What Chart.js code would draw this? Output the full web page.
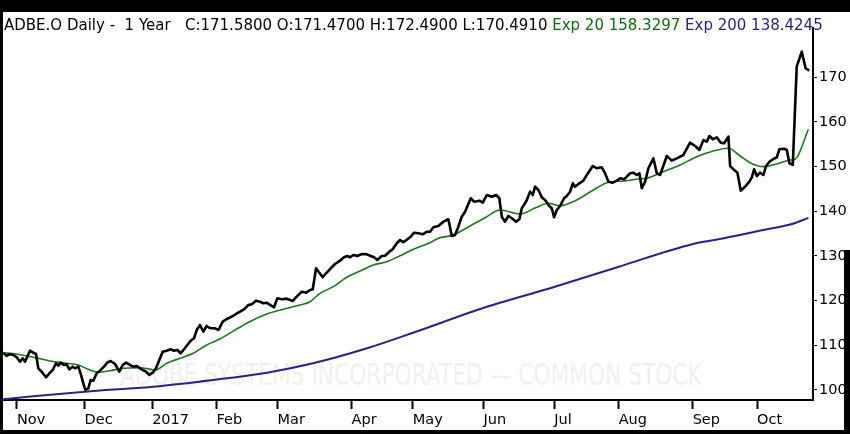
<!DOCTYPE html>
<html>

<head>
  <title>ADBE.O Daily - 1 Year</title>
  <script src="https://cdn.jsdelivr.net/npm/chart.js"></script>
  <style>
    body { margin: 0; background: #000; width: 850px; height: 434px; overflow: hidden; position: relative; font-family: "DejaVu Sans", sans-serif; }
    #panel { position: absolute; left: 3px; top: 12px; width: 847px; height: 418px; background: #fff; overflow: hidden; }
    #stamp { position: absolute; left: 117px; top: 345px; color: #f1f1f1; font-size: 30px; white-space: pre; transform-origin: 0 0; }
    #chart { position: absolute; left: 0; top: 0; }
    #quote { position: absolute; left: 1px; top: 4px; font-size: 15px; white-space: pre; color: #000; }
    #edge { position: absolute; left: 844px; top: 250px; width: 6px; height: 184px; background: #000; }
  </style>
</head>

<body>
  <div id="panel">
    <div id="stamp">ADOBE SYSTEMS INCORPORATED — COMMON STOCK</div>
    <canvas id="chart" width="847" height="418"></canvas>
    <div id="quote">ADBE.O Daily -  1 Year   C:171.5800 O:171.4700 H:172.4900 L:170.4910 <span style="color:#0b6e0b">Exp 20 158.3297</span> <span style="color:#2e1a86">Exp 200 138.4245</span></div>
  </div>
  <div id="edge"></div>

  <script>
    // x values are trading days counted from 1 Nov 2016
    const priceDay = [-4.26, -3.2, -2.39, -1.15, -0.09, 0.93, 1.77, 2.49, 3.2, 4.04, 5.07, 5.91,
      6.62, 7.68, 9.01, 10.26, 11.1, 12.12, 12.84, 13.58, 14.61, 15.45, 16.26, 17.31, 18.03, 19.06, 19.89, 20.61,
      21.23, 22.16, 22.91, 23.72, 24.77, 25.8, 27.04, 28.07, 29.13, 30.46, 31.8, 32.86,
      33.88, 35.13, 36.15, 37.21, 38.23, 39.07, 40.1, 41.13, 42.18, 43.21, 44.23, 45.29,
      46.53, 47.78, 48.8, 49.83, 50.89, 51.91, 52.94, 54.0, 55.02, 55.86, 56.89, 57.91, 58.97, 59.99,
      61.55, 62.64, 63.94, 65.19, 66.74, 68.08, 69.32, 70.56, 71.9, 72.96, 74.29, 75.54, 76.56, 77.62, 78.65, 79.89,
      80.91, 82.28, 83.84, 85.7, 86.94, 88.5, 89.84, 91.08, 91.92, 92.94, 93.97, 95.03, 96.05, 97.51, 98.85, 100.4,
      101.65, 102.67, 103.51, 104.54, 105.78, 107.15, 108.7, 109.95, 110.97, 112.0, 113.37, 114.39, 115.73, 116.79, 118.03, 119.06,
      120.08, 121.33, 122.38, 123.41, 124.74, 126.11, 127.36, 128.38, 129.41, 130.96, 132.52, 134.07, 135.13, 136.15, 137.18, 138.23,
      139.26, 141.03, 142.06, 143.71, 144.76, 146.01, 147.56, 148.9, 149.92, 150.67, 151.69, 152.72, 153.78, 155.11, 156.14, 156.89,
      158.22, 159.47, 160.3, 161.02, 162.05, 163.1, 164.13, 165.15, 166.21, 166.93, 167.77, 168.79, 170.03, 170.87, 171.9, 172.74,
      173.45, 174.79, 176.03, 177.09, 178.96, 180.2, 181.76, 182.78, 183.81, 185.18, 186.42, 187.44, 188.69, 189.53, 190.55, 191.58,
      192.63, 193.44, 194.19, 195.21, 196.24, 197.79, 198.85, 199.88, 201.96, 203.51, 205.07, 207.12, 209.2, 210.76, 212.09, 213.34,
      214.39, 215.2, 216.26, 217.5, 218.74, 219.77, 221.11, 221.64, 222.66, 223.91, 224.96, 226.3, 227.63, 228.38, 229.1, 229.94,
      230.96, 231.99, 232.83, 233.85, 234.91, 236.15, 236.96, 238.42, 239.26, 240.07, 241.12,
      242.34, 243.92, 245.1, 246.2];
    const priceClose = [108.34, 107.61, 107.99, 107.83, 107.32, 106.33, 107.09, 106.33, 107.45, 108.79, 108.34, 108.05,
      104.85, 104.09, 102.84, 103.87, 104.47, 105.97, 105.44, 106.11, 105.59, 105.75, 104.63, 105.21, 104.85, 105.21, 103.36, 101.5,
      100.0, 100.38, 102.24, 102.08, 103.74, 104.32, 105.21, 106.11, 106.49, 105.82, 104.09, 105.59,
      106.11, 105.59, 105.21, 105.37, 104.85, 104.47, 104.09, 103.36, 103.87, 104.85, 106.71, 108.57,
      108.79, 109.11, 108.79, 108.95, 108.21, 109.11, 110.07, 111.03, 111.57, 113.42, 114.54, 113.04, 114.32, 113.8,
      113.8, 113.42, 115.28, 115.88, 116.4, 117.0, 117.52, 118.05, 119.02, 119.17, 119.98, 119.75, 119.4, 119.53, 119.02, 118.5,
      120.51, 120.29, 120.43, 119.91, 120.87, 121.99, 121.77, 122.37, 122.53, 127.23, 126.24, 125.21, 126.11, 127.23, 128.19, 128.93,
      129.69, 129.98, 129.69, 130.2, 129.98, 130.43, 130.36, 129.98, 129.69, 129.08, 129.98, 130.04, 130.94, 131.48, 132.82, 133.56,
      133.04, 133.71, 134.3, 135.19, 135.06, 134.83, 135.41, 135.41, 136.4, 136.69, 137.65, 138.19, 134.45, 134.68, 136.53, 138.77,
      139.89, 142.89, 142.13, 142.35, 141.9, 143.62, 143.24, 143.62, 142.89, 138.77, 137.65, 138.93, 138.41, 137.65, 138.19, 140.65,
      142.13, 144.36, 143.62, 145.48, 144.74, 143.11, 142.51, 141.39, 140.65, 138.64, 140.27, 141.16, 142.89, 143.4, 144.36, 146.24,
      145.48, 146.24, 146.82, 148.1, 150.11, 149.6, 149.82, 148.48, 146.6, 146.38, 146.82, 147.36, 147.14, 147.72, 148.48, 148.61,
      148.1, 148.48, 145.12, 146.6, 149.6, 151.83, 148.48, 148.1, 152.35, 151.3, 151.83, 152.57, 155.32, 154.59, 153.69, 155.93,
      155.55, 156.82, 156.09, 156.53, 155.32, 155.19, 156.67, 150.11, 149.37, 148.61, 144.59, 145.48, 146.6, 147.58, 149.37, 147.87,
      148.61, 148.1, 150.11, 151.07, 151.61, 152.06, 153.85, 153.98, 153.69, 150.72, 150.34,
      172.33, 175.68, 171.97, 171.43];

    const ema20Day = [-4.26, -0.09, 5.07, 10.26, 15.45, 19.06, 22.16, 25.27, 28.91, 33.04, 38.23, 42.9, 46.53, 50.67, 54.8,
      58.97, 62.89, 71.4, 77.62, 82.78, 87.97, 91.08, 94.19, 98.32, 102.49, 106.62, 110.76, 114.92, 119.06, 123.19,
      128.38, 130.96, 135.62, 140.81, 146.01, 150.14, 156.36, 161.55, 165.15, 168.79, 173.98, 179.14, 183.81, 188.47,
      193.13, 195.74, 200.9, 206.09, 211.28, 216.44, 221.11, 224.74, 227.85, 231.99, 236.15, 240.29, 241.84, 245.98];
    const ema20Value = [108.34, 108.05, 107.32, 106.49, 105.97, 105.59, 104.63, 103.96, 104.32, 104.85, 104.99, 104.47, 105.97, 107.09, 108.21,
      110.07, 111.34, 114.92, 117.0, 118.05, 119.02, 119.75, 121.63, 123.11, 125.21, 126.62, 127.96, 128.7, 130.04, 131.48,
      132.95, 133.94, 134.68, 136.69, 138.77, 140.27, 139.37, 140.87, 141.77, 141.23, 142.51, 144.74, 146.46, 146.76,
      147.2, 147.36, 148.84, 150.34, 152.19, 153.47, 154.07, 152.35, 150.85, 149.96, 150.56, 151.45, 151.61, 158.32];

    const ema200Day = [-4.26, 5.07, 21.14, 42.37, 60.93, 77.71, 92.01, 108.8, 124.65, 144.86, 166.93, 186.82, 210.13, 218.0, 231.99, 240.29, 245.98];
    const ema200Value = [97.92, 98.6, 99.62, 100.74, 102.24, 103.87, 105.97, 109.33, 113.2, 118.34, 123.04, 127.52, 132.66, 133.71, 135.79, 137.02, 138.5];

    const monthDay = [0, 21, 42, 62, 81, 104, 123, 145, 167, 187, 210, 230];
    const monthLabel = ['Nov', 'Dec', '2017', 'Feb', 'Mar', 'Apr', 'May', 'Jun', 'Jul', 'Aug', 'Sep', 'Oct'];
    const priceTicks = [100, 110, 120, 130, 140, 150, 160, 170];

    function points(xs, ys) {
      return xs.map((x, i) => ({ x: x, y: ys[i] }));
    }

    // squeeze the faint watermark to its width in the picture
    const stamp = document.getElementById('stamp');
    stamp.style.transform = 'scaleX(' + (582 / stamp.offsetWidth) + ')';

    const axisFont = { family: 'DejaVu Sans', size: 14.5 };
    const ctx = document.getElementById('chart').getContext('2d');
    new Chart(ctx, {
      type: 'line',
      data: {
        datasets: [
          { label: 'ADBE.O', data: points(priceDay, priceClose), borderColor: '#000', borderWidth: 2.6, pointRadius: 0, borderJoinStyle: 'round' },
          { label: 'Exp 20', data: points(ema20Day, ema20Value), borderColor: '#1b7a1b', borderWidth: 1.6, pointRadius: 0, cubicInterpolationMode: 'monotone' },
          { label: 'Exp 200', data: points(ema200Day, ema200Value), borderColor: '#2e1f8f', borderWidth: 2, pointRadius: 0, cubicInterpolationMode: 'monotone' }
        ]
      },
      options: {
        responsive: false,
        animation: false,
        layout: { padding: { top: 16, left: 0, right: 0, bottom: 0 } },
        plugins: { legend: { display: false }, tooltip: { enabled: false } },
        scales: {
          x: {
            type: 'linear', min: -4.35, max: 247.4,
            afterBuildTicks: s => { s.ticks = monthDay.map(v => ({ value: v })); },
            afterFit: s => { s.height = 30; },
            ticks: { autoSkip: false, maxRotation: 0, align: 'start', padding: 3, color: '#000', font: axisFont, callback: (v, i) => monthLabel[i] },
            grid: { drawOnChartArea: false, tickLength: 9, tickWidth: 2, tickColor: '#000' },
            border: { color: '#000', width: 2 }
          },
          y: {
            position: 'right', min: 97.76, max: 180.98,
            afterBuildTicks: s => { s.ticks = priceTicks.map(v => ({ value: v })); },
            afterFit: s => { s.width = 37; },
            ticks: { padding: 2, color: '#000', font: axisFont },
            grid: { drawOnChartArea: false, tickLength: 4, tickWidth: 1, tickColor: '#000' },
            border: { color: '#000', width: 2 }
          }
        }
      }
    });
  </script>
</body>

</html>
